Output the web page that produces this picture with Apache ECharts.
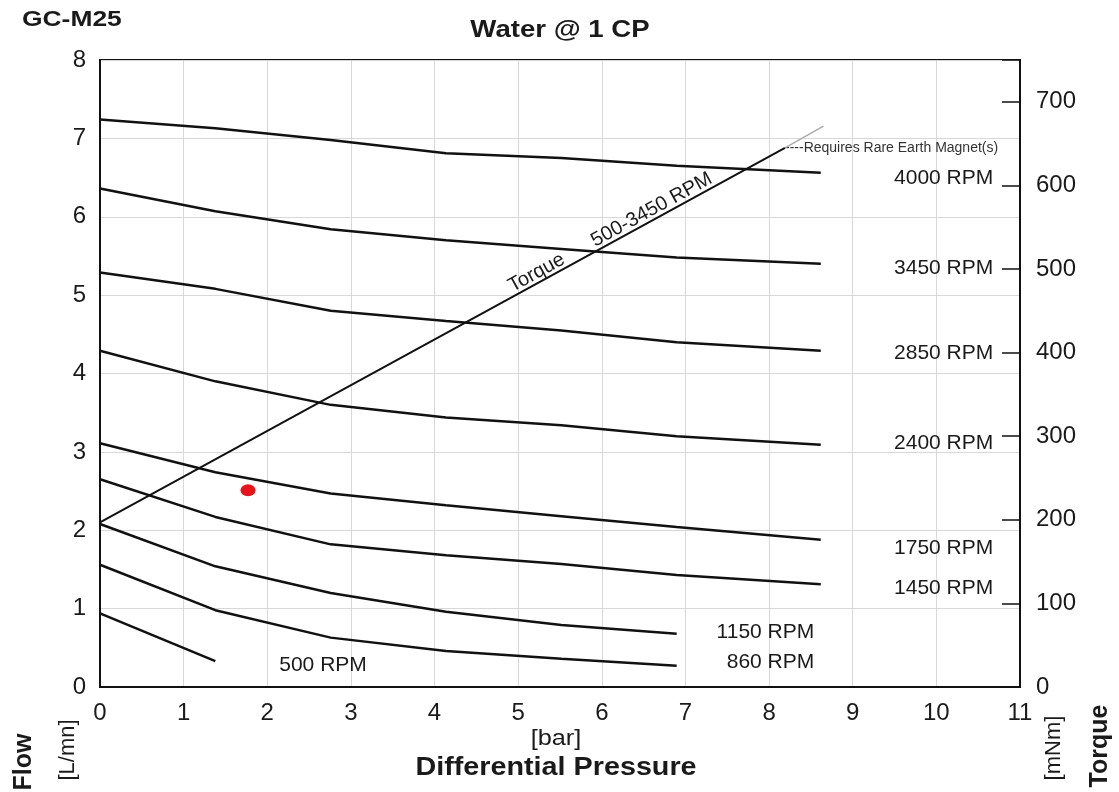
<!DOCTYPE html>
<html>
<head>
<meta charset="utf-8">
<script src="https://cdn.jsdelivr.net/npm/echarts@6/dist/echarts.min.js"></script>
<style>html,body{margin:0;padding:0;background:#fff;}#c{width:1119px;height:792px;}</style>
</head>
<body>
<div id="c"></div>
<script>
// ---- data ----
const pressureBar = [0, 1.379, 2.758, 4.137, 5.516, 6.895, 8.618];
const rpm4000 = [7.24, 7.13, 6.98, 6.81, 6.75, 6.65, 6.56];
const rpm3450 = [6.36, 6.07, 5.84, 5.70, 5.59, 5.48, 5.40];
const rpm2850 = [5.29, 5.08, 4.80, 4.67, 4.55, 4.40, 4.29];
const rpm2400 = [4.29, 3.90, 3.60, 3.44, 3.34, 3.20, 3.09];
const rpm1750 = [3.11, 2.74, 2.47, 2.32, 2.18, 2.04, 1.88];
const rpm1450 = [2.65, 2.17, 1.82, 1.68, 1.57, 1.43, 1.31];
const rpm1150 = [2.08, 1.54, 1.20, 0.96, 0.79, 0.68];
const rpm860  = [1.56, 0.98, 0.63, 0.46, 0.36, 0.27];
const rpm500  = [0.94, 0.33];
const torquePressure = [0, 8.19, 8.65];
const torqueValues = [197, 645, 671];
const markPoint = [1.77, 2.51];
const xTicks = [0,1,2,3,4,5,6,7,8,9,10,11];

const curveNames = ['4000 RPM','3450 RPM','2850 RPM','2400 RPM','1750 RPM','1450 RPM','1150 RPM','860 RPM','500 RPM'];
const curveValues = [rpm4000, rpm3450, rpm2850, rpm2400, rpm1750, rpm1450, rpm1150, rpm860, rpm500];
// annotation anchors (x bar, flow) for curve labels
const curveLabelAt = [[10.68,6.49],[10.68,5.34],[10.68,4.26],[10.68,3.11],[10.68,1.77],[10.68,1.26],[8.54,0.70],[8.54,0.32],[3.19,0.28]];

const FONT = '"Liberation Sans", Arial, sans-serif';
const TXT = '#1a1a1a';
const series = [];
curveValues.forEach((vals, i) => {
  series.push({
    type: 'line', name: curveNames[i], xAxisIndex: 0, yAxisIndex: 0,
    data: vals.map((v, k) => [pressureBar[k], v]),
    symbol: 'none', smooth: false, silent: true,
    lineStyle: {color: '#111', width: 2.5}
  });
});
// torque line (black part + grey extension)
series.push({
  type: 'line', yAxisIndex: 1, symbol: 'none', silent: true,
  data: [[torquePressure[0], torqueValues[0]], [torquePressure[1], torqueValues[1]]],
  lineStyle: {color: '#111', width: 2}
});
series.push({
  type: 'line', yAxisIndex: 1, symbol: 'none', silent: true,
  data: [[torquePressure[1], torqueValues[1]], [torquePressure[2], torqueValues[2]]],
  lineStyle: {color: '#aaa', width: 1.5}
});
// curve labels
series.push({
  type: 'scatter', yAxisIndex: 0, symbolSize: 0, silent: true,
  itemStyle: {opacity: 1},
  data: curveLabelAt.map((p, i) => ({value: p, name: curveNames[i]})),
  label: {show: true, position: 'left', distance: 0, formatter: p => p.name,
    fontFamily: FONT, fontSize: 21, color: TXT}
});
// torque label along the line
const tSlope = (torqueValues[1] - torqueValues[0]) / (torquePressure[1] - torquePressure[0]);
series.push({
  type: 'scatter', yAxisIndex: 1, symbolSize: 0, silent: true,
  itemStyle: {opacity: 1},
  data: [[6.1, torqueValues[0] + tSlope * 6.1 + 13]],
  label: {show: true, position: 'inside', rotate: 28.7, formatter: 'Torque      500-3450 RPM',
    fontFamily: FONT, fontSize: 20, color: TXT}
});
// rare earth magnet note
series.push({
  type: 'scatter', yAxisIndex: 1, symbolSize: 0, silent: true,
  itemStyle: {opacity: 1},
  data: [[torquePressure[1], torqueValues[1]]],
  label: {show: true, position: 'right', distance: 0, formatter: '----Requires Rare Earth Magnet(s)',
    fontFamily: FONT, fontSize: 14, color: '#333'}
});
// red dot
series.push({
  type: 'scatter', yAxisIndex: 0, silent: true, symbol: 'circle', symbolSize: [15, 12],
  data: [markPoint], itemStyle: {color: '#e8141c', opacity: 1}
});

const chart = echarts.init(document.getElementById('c'), null, {renderer: 'canvas'});
chart.setOption({
  backgroundColor: '#fff',
  animation: false,
  grid: {left: 100, right: 99, top: 60, bottom: 105, show: true, borderColor: '#111', borderWidth: 2, backgroundColor: 'transparent'},
  xAxis: {
    type: 'value', min: 0, max: 11, interval: 1,
    axisLine: {show: true, lineStyle: {color: '#111', width: 2}},
    axisTick: {show: false},
    splitLine: {show: true, lineStyle: {color: '#d8d8d8', width: 1}},
    axisLabel: {fontFamily: FONT, fontSize: 24, color: TXT, margin: 14,
      formatter: v => xTicks.includes(v) ? String(v) : ''}
  },
  yAxis: [{
    type: 'value', min: 0, max: 8, interval: 1, position: 'left',
    axisLine: {show: true, lineStyle: {color: '#111', width: 2}},
    axisTick: {show: false},
    splitLine: {show: true, lineStyle: {color: '#d8d8d8', width: 1}},
    axisLabel: {fontFamily: FONT, fontSize: 24, color: TXT, margin: 14}
  }, {
    type: 'value', min: 0, max: 750, interval: 100, position: 'right',
    axisLine: {show: true, lineStyle: {color: '#111', width: 2}},
    axisTick: {show: true, inside: true, length: 18, lineStyle: {color: '#111', width: 1.5}},
    splitLine: {show: false},
    axisLabel: {fontFamily: FONT, fontSize: 24, color: TXT, margin: 16,
      formatter: v => v > 700 ? '' : String(v)}
  }],
  graphic: [
    {type: 'text', x: 22, y: 20, scaleX: 1.2, style: {text: 'GC-M25', font: 'bold 22px ' + FONT, fill: TXT, verticalAlign: 'middle'}},
    {type: 'text', x: 560, y: 30, scaleX: 1.15, style: {text: 'Water @ 1 CP', font: 'bold 24px ' + FONT, fill: TXT, align: 'center', verticalAlign: 'middle'}},
    {type: 'text', x: 556, y: 739, scaleX: 1.15, style: {text: '[bar]', font: '22px ' + FONT, fill: TXT, align: 'center', verticalAlign: 'middle'}},
    {type: 'text', x: 556, y: 768, scaleX: 1.15, style: {text: 'Differential Pressure', font: 'bold 25px ' + FONT, fill: TXT, align: 'center', verticalAlign: 'middle'}},
    {type: 'text', x: 24, y: 762, rotation: Math.PI / 2, style: {text: 'Flow', font: 'bold 25px ' + FONT, fill: TXT, align: 'center', verticalAlign: 'middle'}},
    {type: 'text', x: 68, y: 750, rotation: Math.PI / 2, style: {text: '[L/mn]', font: '22px ' + FONT, fill: TXT, align: 'center', verticalAlign: 'middle'}},
    {type: 'text', x: 1054, y: 748, rotation: Math.PI / 2, style: {text: '[mNm]', font: '22px ' + FONT, fill: TXT, align: 'center', verticalAlign: 'middle'}},
    {type: 'text', x: 1100, y: 746, rotation: Math.PI / 2, style: {text: 'Torque', font: 'bold 25px ' + FONT, fill: TXT, align: 'center', verticalAlign: 'middle'}}
  ],
  series: series
});
</script>
</body>
</html>
